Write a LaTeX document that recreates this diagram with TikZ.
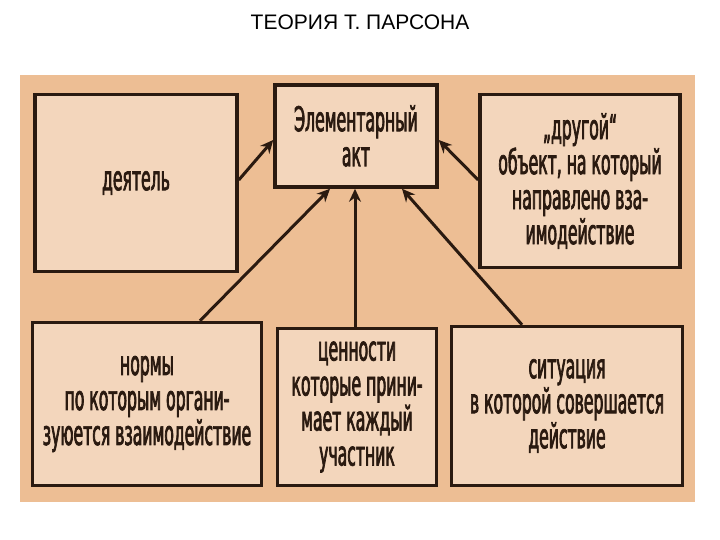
\documentclass[tikz,border=0pt]{standalone}
\usepackage{fontspec}
\setmainfont{Liberation Sans}
\newfontfamily\narrowf{DejaVu Sans}[FakeStretch=0.46,FakeBold=2]
\usetikzlibrary{arrows.meta}
\definecolor{bgpanel}{HTML}{EDBE94}
\definecolor{boxfill}{HTML}{F3D6BC}
\definecolor{boxline}{HTML}{2A1A10}
\begin{document}
\begin{tikzpicture}[x=1pt,y=1pt,
  box/.style={draw=boxline,line width=3.5pt,fill=boxfill,align=center,inner sep=0pt,
     font=\narrowf\fontsize{34}{35}\selectfont,text=boxline},
  arr/.style={draw=boxline,line width=3pt,-{Stealth[length=13pt,width=12pt]}}]
\useasboundingbox (0,0) rectangle (720,-540);
\fill[white] (0,0) rectangle (720,-540);
\node (title) at (360,-22) {\fontsize{21}{25}\selectfont ТЕОРИЯ Т. ПАРСОНА};
\fill[bgpanel] (20,-75) rectangle (695,-502);
\node[box,minimum width=202pt,minimum height=177pt] (d) at (136,-183) {деятель};
\node[box,minimum width=162pt,minimum height=102pt] (a) at (356,-136) {Элементарный\\акт};
\node[box,minimum width=200pt,minimum height=173pt] (o) at (580,-181) {„другой“\\объект, на который\\направлено вза-\\имодействие};
\node[box,minimum width=229pt,minimum height=163pt] (n) at (147,-404) {нормы\\по которым органи-\\зуюется взаимодействие};
\node[box,minimum width=159pt,minimum height=157pt] (c) at (357,-407) {ценности\\которые прини-\\мает каждый\\участник};
\node[box,minimum width=231pt,minimum height=159pt] (s) at (567,-406) {ситуация\\в которой совершается\\действие};
\draw[arr] (d.east |- 0,-180) -- (a.west |- 0,-140);
\draw[arr] (o.west |- 0,-180) -- (a.east |- 0,-140);
\draw[arr] (n.north -| 200,0) -- (a.south -| 330,0);
\draw[arr] (c.north -| 355,0) -- (a.south -| 355,0);
\draw[arr] (s.north -| 522,0) -- (a.south -| 402,0);
\end{tikzpicture}
\end{document}
